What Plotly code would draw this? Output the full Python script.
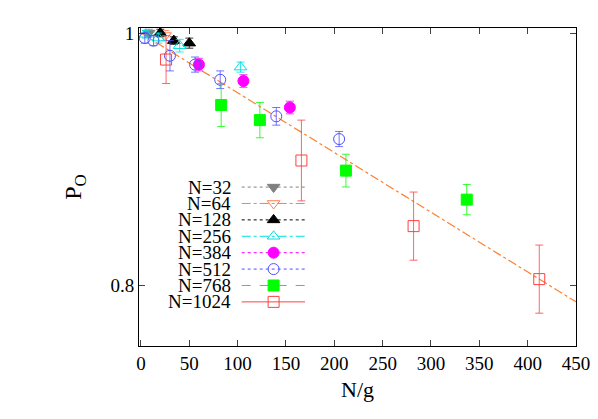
import plotly.graph_objects as go

labels = ["N=32","N=64","N=128","N=256","N=384","N=512","N=768","N=1024"]
colors = ["#808080","#ff7f50","#000000","#00e0e0","#ff00ff","#5050ff","#00ff00","#ff4040"]
symbols = ["triangle-down","triangle-down-open","triangle-up","triangle-up-open","circle","circle-open","square","square-open"]
dashes = ["dot","dashdot","dot","dashdot","dot","dot","dash","solid"]

xs = {
 "N=32":[8], "N=64":[25], "N=128":[20,34,50], "N=256":[5,18,40,103],
 "N=384":[60,106,154], "N=512":[4,13,30,56,82,140,205],
 "N=768":[83,123,212,337], "N=1024":[26,166,282,412]}
ys = {
 "N=32":[1.0], "N=64":[0.998], "N=128":[1.0,0.994,0.992], "N=256":[0.999,0.996,0.99,0.973],
 "N=384":[0.975,0.962,0.941], "N=512":[0.996,0.994,0.982,0.975,0.963,0.934,0.916],
 "N=768":[0.943,0.931,0.891,0.868], "N=1024":[0.979,0.899,0.847,0.805]}
errs = {
 "N=32":[0.003], "N=64":[0.004], "N=128":[0.003,0.003,0.004], "N=256":[0.003,0.004,0.005,0.004],
 "N=384":[0.005,0.005,0.005], "N=512":[0.004,0.004,0.012,0.006,0.007,0.007,0.006],
 "N=768":[0.017,0.014,0.013,0.012], "N=1024":[0.019,0.032,0.027,0.027]}
fit_x = [0, 450]
fit_y = [1.0, 0.787]

fig = go.Figure()
fig.add_trace(go.Scatter(x=fit_x, y=fit_y, mode="lines",
    line=dict(color="#ff7f30", width=1.2, dash="dashdot"), showlegend=False))
for i, lab in enumerate(labels):
    fig.add_trace(go.Scatter(x=xs[lab], y=ys[lab], mode="markers",
        marker=dict(symbol=symbols[i], color=colors[i], size=11,
                    line=dict(color=colors[i], width=1)),
        error_y=dict(type="data", array=errs[lab], color=colors[i], thickness=0.8, width=4),
        showlegend=False))

# custom legend on an overlay axis
leg_y = [8 - i for i in range(len(labels))]
for i, lab in enumerate(labels):
    fig.add_trace(go.Scatter(x=[0.235, 0.38], y=[leg_y[i]]*2, xaxis="x2", yaxis="y2",
        mode="lines", line=dict(color=colors[i], width=1, dash=dashes[i]), showlegend=False))
    fig.add_trace(go.Scatter(x=[0.308], y=[leg_y[i]], xaxis="x2", yaxis="y2", mode="markers",
        marker=dict(symbol=symbols[i], color=colors[i], size=11, line=dict(color=colors[i], width=1)),
        showlegend=False))
    fig.add_annotation(x=0.208, y=leg_y[i], xref="x2", yref="y2", text=lab, showarrow=False,
        xanchor="right", xshift=3, font=dict(size=19, color="black", family="Liberation Serif"))

fig.update_layout(
    width=598, height=419, margin=dict(l=131, r=30, t=20, b=81, autoexpand=False),
    plot_bgcolor="white", paper_bgcolor="white",
    font=dict(family="Liberation Serif", size=19, color="black"),
    xaxis=dict(range=[-2, 450], tickvals=[0,50,100,150,200,250,300,350,400,450],
               ticks="inside", ticklen=6, showgrid=False, zeroline=False, mirror="ticks",
               showline=True, linecolor="black", automargin=False,
               title=dict(text="N/g", font=dict(size=22), standoff=8)),
    yaxis=dict(range=[0.752, 1.004], tickvals=[0.8, 1.0], ticktext=["0.8","1"],
               ticks="inside", ticklen=6, showgrid=False, zeroline=False, mirror="ticks",
               showline=True, linecolor="black", automargin=False,
               title=dict(text="P<sub>O</sub>", font=dict(size=24), standoff=22)),
    xaxis2=dict(range=[0, 1], overlaying="x", visible=False),
    yaxis2=dict(range=[-1.69, 17.7], overlaying="y", visible=False),
)
fig.write_html("out.html")
